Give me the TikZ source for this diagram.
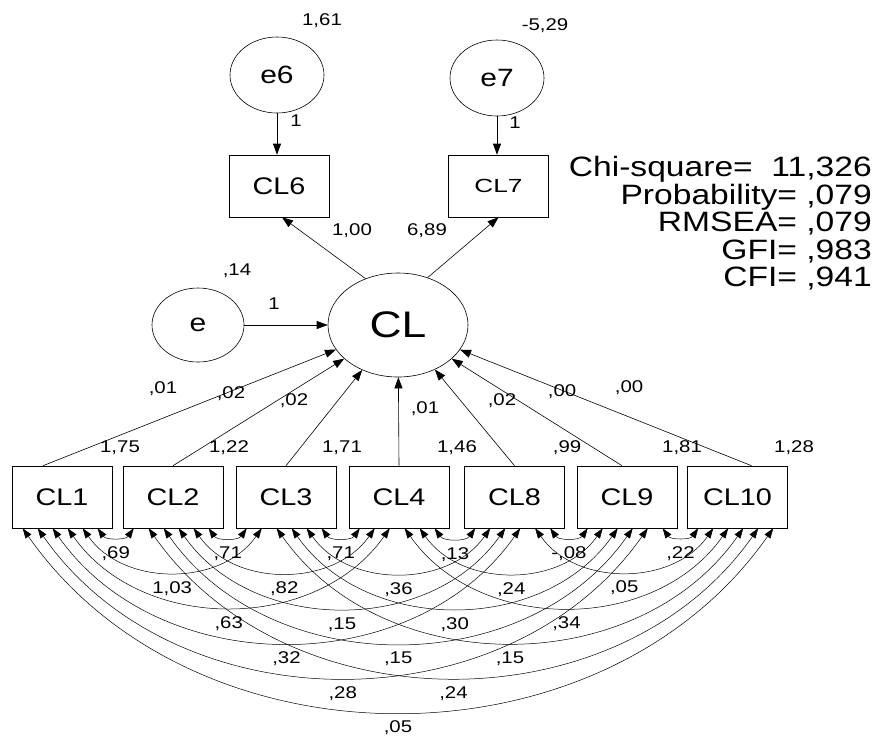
\documentclass[tikz,border=0pt]{standalone}
\usepackage{fontspec}
\setmainfont{Liberation Sans}[FakeStretch=1.2]
\usetikzlibrary{arrows.meta,shapes.geometric}
\begin{document}
\begin{tikzpicture}[x=1pt,y=-1pt,
  every node/.style={inner sep=0pt},
  obs/.style={draw, line width=0.6pt, rectangle, minimum width=100pt, minimum height=62pt, font=\fontsize{24}{28}\selectfont},
  lat/.style={draw, line width=0.6pt, ellipse},
  lbl/.style={font=\fontsize{17}{20}\selectfont},
  fitline/.style={font=\fontsize{28}{32}\selectfont, anchor=base east},
  reg/.style={line width=0.6pt, -{Triangle[length=11pt,width=8pt]}},
  cov/.style={line width=0.5pt, {Triangle[length=10pt,width=7pt]}-{Triangle[length=10pt,width=7pt]}, bend right=55, looseness=1.02},
]
\useasboundingbox (0,0) rectangle (877,740);

% observed variables
\node[obs] (CL1) at (62,497) {CL1};
\node[obs] (CL2) at (173,497) {CL2};
\node[obs] (CL3) at (286,497) {CL3};
\node[obs] (CL4) at (399,497) {CL4};
\node[obs] (CL8) at (514.5,497) {CL8};
\node[obs] (CL9) at (627,497) {CL9};
\node[obs] (CL10) at (737.5,497) {CL10};
\node[obs] (CL6) at (279,186) {CL6};
\node[obs, font=\fontsize{19}{22}\selectfont] (CL7) at (498.5,186) {\scalebox{1.15}[1]{CL7}};

% latent variables
\node[lat, minimum width=94pt, minimum height=76pt, font=\fontsize{25}{28}\selectfont] (e6) at (277,75) {e6};
\node[lat, minimum width=94pt, minimum height=76pt, font=\fontsize{25}{28}\selectfont] (e7) at (497,78) {e7};
\node[lat, minimum width=140pt, minimum height=104pt, font=\fontsize{37}{40}\selectfont] (CL) at (398,325) {CL};
\node[lat, minimum width=92pt, minimum height=74pt, font=\fontsize{25}{28}\selectfont] (e) at (198,325) {e};

% paths
\draw[reg] (e6.south) -- (e6.south |- CL6.north);
\draw[reg] (e7.south) -- (e7.south |- CL7.north);
\draw[reg] (CL.125) -- ([xshift=3pt]CL6.south);
\draw[reg] (CL.58) -- (CL7.south);
\draw[reg] (e) -- (CL);
\draw[reg] ([xshift=-19pt]CL1.north) -- (CL);
\draw[reg] (CL2.north) -- (CL);
\draw[reg] (CL3.north) -- (CL);
\draw[reg] (CL4.north) -- (CL);
\draw[reg] (CL8.north) -- (CL);
\draw[reg] ([xshift=-5pt]CL9.north) -- (CL);
\draw[reg] ([xshift=14pt]CL10.north) -- (CL);

% parameter labels
\node[lbl] (vE6) at (322,21) {1,61};
\node[lbl] (vE7) at (545,26) {-5,29};
\node[lbl] (w6) at (296,121) {1};
\node[lbl] (w7) at (515,123) {1};
\node[lbl] (l6) at (352,231) {1,00};
\node[lbl] (l7) at (427,231) {6,89};
\node[lbl] (vE) at (237,271) {,14};
\node[lbl] (wE) at (274,304) {1};
\node[lbl] (r1) at (163,389) {,01};
\node[lbl] (r2) at (231,394) {,02};
\node[lbl] (r3) at (294,401) {,02};
\node[lbl] (r4) at (425,409) {,01};
\node[lbl] (r8) at (502,401) {,02};
\node[lbl] (r9) at (562,392) {,00};
\node[lbl] (r10) at (629,388) {,00};
\node[lbl] (v1) at (120,448) {1,75};
\node[lbl] (v2) at (229,448) {1,22};
\node[lbl] (v3) at (342,448) {1,71};
\node[lbl] (v4) at (457,448) {1,46};
\node[lbl] (v8) at (567,448) {,99};
\node[lbl] (v9) at (682,448) {1,81};
\node[lbl] (v10) at (794,448) {1,28};

% fit statistics
\node[fitline] (f1) at (872,176) {Chi-square=\ \ 11,326};
\node[fitline] (f2) at (872,204) {Probability= ,079};
\node[fitline] (f3) at (872,231) {RMSEA= ,079};
\node[fitline] (f4) at (872,259) {GFI= ,983};
\node[fitline] (f5) at (872,286) {CFI= ,941};

% covariances
\draw[cov] ([xshift=86pt]CL1.south west) to node[lbl,midway,below=9pt] (c12) {,69} ([xshift=11pt]CL2.south west);
\draw[cov] ([xshift=71pt]CL1.south west) to node[lbl,midway,below=9pt] (c13) {1,03} ([xshift=26pt]CL3.south west);
\draw[cov] ([xshift=56pt]CL1.south west) to node[lbl,midway,below=9pt] (c14) {,63} ([xshift=41pt]CL4.south west);
\draw[cov] ([xshift=41pt]CL1.south west) to node[lbl,midway,below=9pt] (c18) {,32} ([xshift=56pt]CL8.south west);
\draw[cov] ([xshift=26pt]CL1.south west) to node[lbl,midway,below=9pt] (c19) {,28} ([xshift=71pt]CL9.south west);
\draw[cov] ([xshift=11pt]CL1.south west) to node[lbl,midway,below=9pt] (c110) {,05} ([xshift=86pt]CL10.south west);
\draw[cov] ([xshift=86pt]CL2.south west) to node[lbl,midway,below=9pt] (c23) {,71} ([xshift=11pt]CL3.south west);
\draw[cov] ([xshift=71pt]CL2.south west) to node[lbl,midway,below=9pt] (c24) {,82} ([xshift=26pt]CL4.south west);
\draw[cov] ([xshift=56pt]CL2.south west) to node[lbl,midway,below=9pt] (c28) {,15} ([xshift=41pt]CL8.south west);
\draw[cov] ([xshift=41pt]CL2.south west) to node[lbl,midway,below=9pt] (c29) {,15} ([xshift=56pt]CL9.south west);
\draw[cov] ([xshift=26pt]CL2.south west) to node[lbl,midway,below=9pt] (c210) {,24} ([xshift=71pt]CL10.south west);
\draw[cov] ([xshift=86pt]CL3.south west) to node[lbl,midway,below=9pt] (c34) {,71} ([xshift=11pt]CL4.south west);
\draw[cov] ([xshift=71pt]CL3.south west) to node[lbl,midway,below=9pt] (c38) {,36} ([xshift=26pt]CL8.south west);
\draw[cov] ([xshift=56pt]CL3.south west) to node[lbl,midway,below=9pt] (c39) {,30} ([xshift=41pt]CL9.south west);
\draw[cov] ([xshift=41pt]CL3.south west) to node[lbl,midway,below=9pt] (c310) {,15} ([xshift=56pt]CL10.south west);
\draw[cov] ([xshift=86pt]CL4.south west) to node[lbl,midway,below=9pt] (c48) {,13} ([xshift=11pt]CL8.south west);
\draw[cov] ([xshift=71pt]CL4.south west) to node[lbl,midway,below=9pt] (c49) {,24} ([xshift=26pt]CL9.south west);
\draw[cov] ([xshift=56pt]CL4.south west) to node[lbl,midway,below=9pt] (c410) {,34} ([xshift=41pt]CL10.south west);
\draw[cov] ([xshift=86pt]CL8.south west) to node[lbl,midway,below=9pt] (c89) {-,08} ([xshift=11pt]CL9.south west);
\draw[cov] ([xshift=71pt]CL8.south west) to node[lbl,midway,below=9pt] (c810) {,05} ([xshift=26pt]CL10.south west);
\draw[cov] ([xshift=86pt]CL9.south west) to node[lbl,midway,below=9pt] (c910) {,22} ([xshift=11pt]CL10.south west);
\end{tikzpicture}
\end{document}
